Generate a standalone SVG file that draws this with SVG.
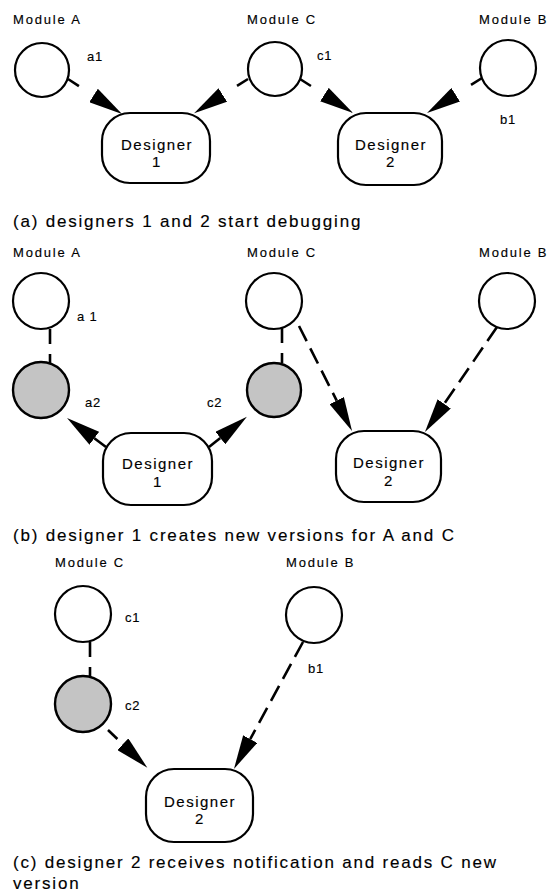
<svg xmlns="http://www.w3.org/2000/svg" width="558" height="894" viewBox="0 0 558 894">
<style>
text{font-family:"Liberation Sans",Arial,Helvetica,sans-serif;fill:#000;stroke:#000;stroke-width:0.15px}
.mod{font-size:13px;letter-spacing:1.8px}
.lab{font-size:13px;letter-spacing:0.8px}
.des{font-size:15px;letter-spacing:1.5px;text-anchor:middle}
.cap{font-size:17px;letter-spacing:1.8px}
.c{fill:#fff;stroke:#000;stroke-width:2.2}
.g{fill:#c4c4c4;stroke:#000;stroke-width:2.4}
.box{fill:#fff;stroke:#000;stroke-width:2.2}
.ln{fill:none;stroke:#000;stroke-width:2.6}
.d1{stroke-dasharray:13 30}
.d2{stroke-dasharray:17 8}
.dv{stroke-dasharray:15 10}
</style>
<defs>
<marker id="ah" markerUnits="userSpaceOnUse" viewBox="0 0 34 16" markerWidth="34" markerHeight="16" refX="0" refY="8" orient="auto">
<path d="M0,0 L34,8 L0,16 Z" fill="#000"/>
</marker>
</defs>
<g id="connectors">
<path class="ln d1" d="M68,79 L93.5,95.5" marker-end="url(#ah)"/>
<path class="ln d1" d="M248,79 L222.8,95" marker-end="url(#ah)"/>
<path class="ln d1" d="M300,79 L324.4,94.6" marker-end="url(#ah)"/>
<path class="ln d1" d="M482,78 L455.7,94.7" marker-end="url(#ah)"/>
<path class="ln dv" d="M50,329 L50,363"/>
<path class="ln dv" d="M282,328 L282,363"/>
<path class="ln" d="M106,447 L94.3,438.3" marker-end="url(#ah)"/>
<path class="ln" d="M209,447 L220.3,438" marker-end="url(#ah)"/>
<path class="ln d2" d="M299,326 L336.7,400.6" marker-end="url(#ah)"/>
<path class="ln d2" d="M497,327 L444.2,403.9" marker-end="url(#ah)"/>
<path class="ln dv" d="M90,642 L90,677"/>
<path class="ln d1" d="M108,730 L122.8,744.2" marker-end="url(#ah)"/>
<path class="ln d2" d="M303,642 L250.2,739.1" marker-end="url(#ah)"/>
</g>
<g id="a-moduleA"><text class="mod" x="13" y="24">Module A</text><circle class="c" cx="42" cy="70" r="27"/><text class="lab" x="87" y="61">a1</text></g>
<g id="a-moduleC"><text class="mod" x="247" y="24">Module C</text><circle class="c" cx="275" cy="69" r="27"/><text class="lab" x="317" y="60">c1</text></g>
<g id="a-moduleB"><text class="mod" x="479" y="24">Module B</text><circle class="c" cx="508" cy="68" r="28"/><text class="lab" x="500" y="124">b1</text></g>
<g id="a-designer1"><rect class="box" x="102" y="113" width="108" height="70" rx="28" ry="28"/><text class="des" x="157" y="150">Designer</text><text class="des" x="157" y="167">1</text></g>
<g id="a-designer2"><rect class="box" x="338" y="113" width="104" height="72" rx="28" ry="28"/><text class="des" x="391" y="150">Designer</text><text class="des" x="391" y="167">2</text></g>
<text class="cap" x="13" y="227">(a) designers 1 and  2 start debugging</text>
<g id="b-moduleA"><text class="mod" x="13" y="257">Module A</text><circle class="c" cx="41" cy="301" r="28"/><text class="lab" x="77" y="321">a 1</text></g>
<g id="b-a2"><circle class="g" cx="41" cy="390" r="28"/><text class="lab" x="85" y="407">a2</text></g>
<g id="b-moduleC"><text class="mod" x="247" y="257">Module C</text><circle class="c" cx="274" cy="301" r="28"/></g>
<g id="b-c2"><circle class="g" cx="274" cy="390" r="27"/><text class="lab" x="207" y="407">c2</text></g>
<g id="b-moduleB"><text class="mod" x="479" y="257">Module B</text><circle class="c" cx="507" cy="301" r="28"/></g>
<g id="b-designer1"><rect class="box" x="103" y="433" width="109" height="72" rx="28" ry="28"/><text class="des" x="158" y="469">Designer</text><text class="des" x="158" y="487">1</text></g>
<g id="b-designer2"><rect class="box" x="336" y="431" width="105" height="71" rx="28" ry="28"/><text class="des" x="389" y="468">Designer</text><text class="des" x="389" y="486">2</text></g>
<text class="cap" x="13" y="541">(b) designer 1 creates new versions for A and C</text>
<g id="c-moduleC"><text class="mod" x="55" y="567">Module C</text><circle class="c" cx="83" cy="614" r="28"/><text class="lab" x="125" y="622">c1</text></g>
<g id="c-c2"><circle class="g" cx="83" cy="704" r="28"/><text class="lab" x="125" y="710">c2</text></g>
<g id="c-moduleB"><text class="mod" x="286" y="567">Module B</text><circle class="c" cx="314" cy="615" r="28"/><text class="lab" x="308" y="673">b1</text></g>
<g id="c-designer2"><rect class="box" x="146" y="769" width="107" height="73" rx="28" ry="28"/><text class="des" x="200" y="807">Designer</text><text class="des" x="200" y="824">2</text></g>
<text class="cap" x="13" y="868">(c) designer 2 receives notification and reads C new</text>
<text class="cap" x="13" y="889">version</text>
</svg>
